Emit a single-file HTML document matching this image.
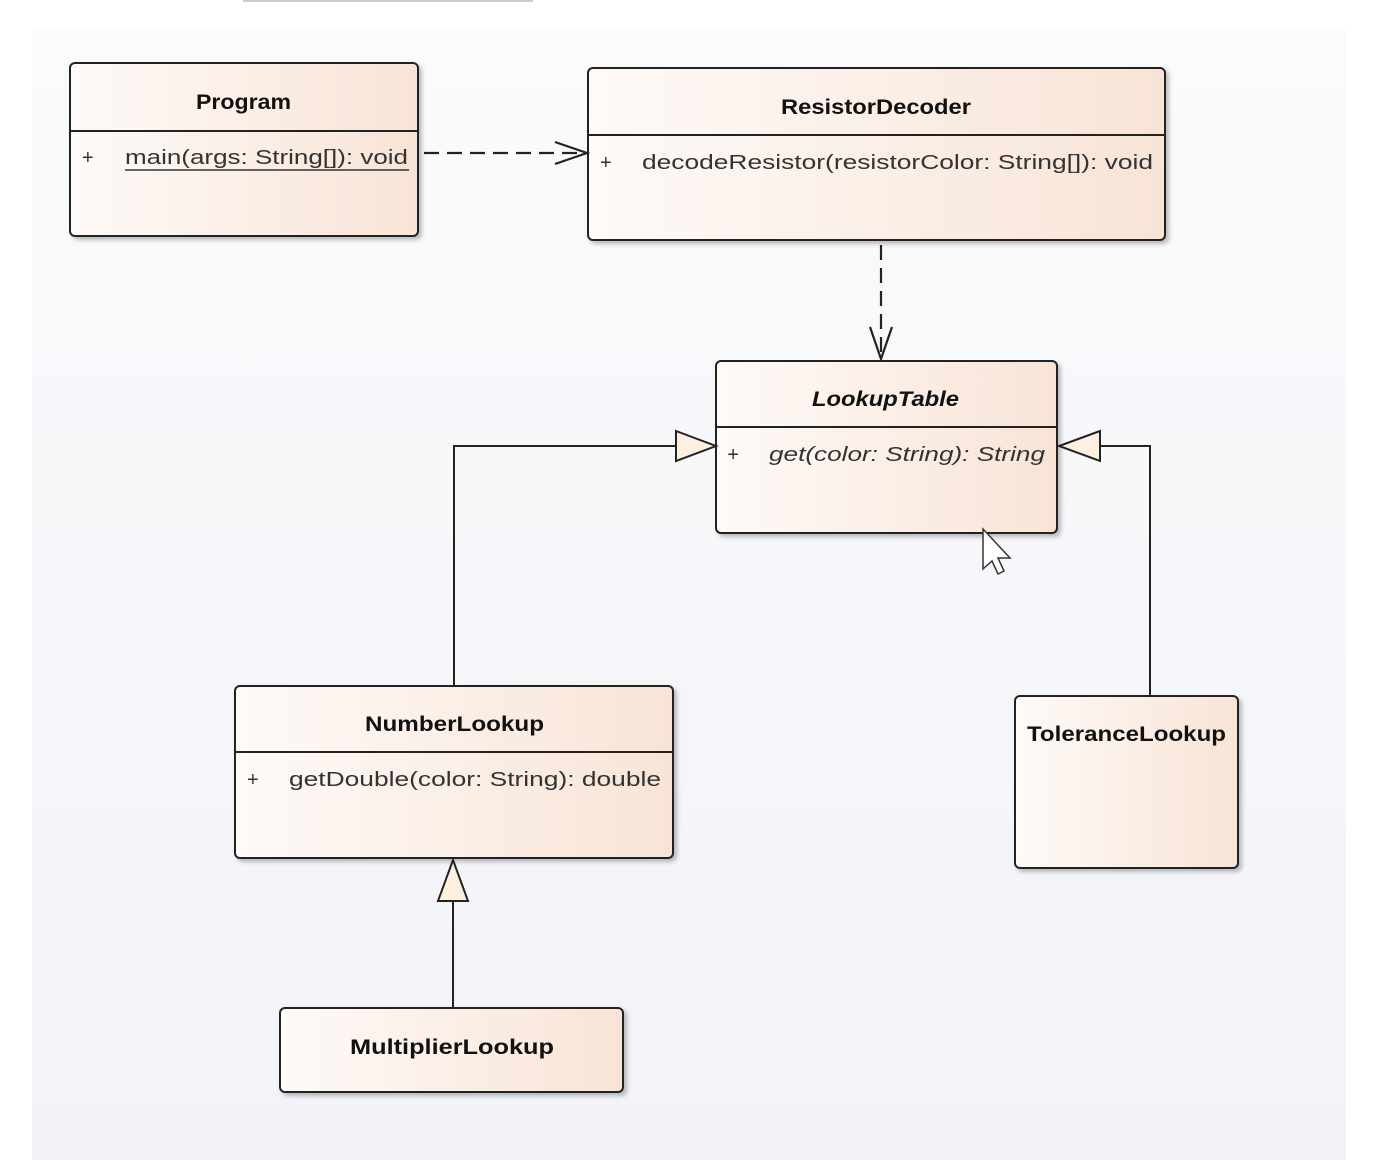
<!DOCTYPE html>
<html><head><meta charset="utf-8"><style>
html,body{margin:0;padding:0;background:#fff;}
svg{display:block}
text{font-family:"Liberation Sans",sans-serif;}
</style></head><body>
<svg width="1378" height="1160" viewBox="0 0 1378 1160" xmlns="http://www.w3.org/2000/svg">
<defs>
<linearGradient id="bg" x1="0" y1="0" x2="0" y2="1"><stop offset="0" stop-color="#fafbfc"/><stop offset="1" stop-color="#f1f3f8"/></linearGradient>
<linearGradient id="box" x1="0" y1="0" x2="1" y2="0"><stop offset="0" stop-color="#fefaf8"/><stop offset="1" stop-color="#f8e4d6"/></linearGradient>
<filter id="sh" x="-5%" y="-5%" width="115%" height="120%"><feDropShadow dx="3" dy="3" stdDeviation="2" flood-color="#000" flood-opacity="0.25"/></filter>
</defs>
<rect x="243" y="0" width="290" height="2" fill="#c8ccd4"/>
<rect x="32" y="30" width="1314" height="1130" fill="url(#bg)"/>

<g stroke="#222" stroke-width="2" fill="url(#box)">
<rect x="70" y="63" width="348" height="173" rx="5" filter="url(#sh)"/>
<rect x="588" y="68" width="577" height="172" rx="5" filter="url(#sh)"/>
<rect x="716" y="361" width="341" height="172" rx="5" filter="url(#sh)"/>
<rect x="235" y="686" width="438" height="172" rx="5" filter="url(#sh)"/>
<rect x="1015" y="696" width="223" height="172" rx="5" filter="url(#sh)"/>
<rect x="280" y="1008" width="343" height="84" rx="5" filter="url(#sh)"/>
</g>
<g stroke="#222" stroke-width="2">
<line x1="70" y1="131" x2="418" y2="131"/>
<line x1="588" y1="135" x2="1165" y2="135"/>
<line x1="716" y1="427" x2="1057" y2="427"/>
<line x1="235" y1="752" x2="673" y2="752"/>
</g>

<g fill="#111" font-weight="bold" font-size="21" lengthAdjust="spacingAndGlyphs">
<text x="196" y="109" textLength="95" lengthAdjust="spacingAndGlyphs">Program</text>
<text x="781" y="114" textLength="190" lengthAdjust="spacingAndGlyphs">ResistorDecoder</text>
<text x="812" y="406" font-style="italic" textLength="147" lengthAdjust="spacingAndGlyphs">LookupTable</text>
<text x="365" y="731" textLength="179" lengthAdjust="spacingAndGlyphs">NumberLookup</text>
<text x="1027" y="741" textLength="199" lengthAdjust="spacingAndGlyphs">ToleranceLookup</text>
<text x="350" y="1054" textLength="204" lengthAdjust="spacingAndGlyphs">MultiplierLookup</text>
</g>
<g fill="#333" font-size="20">
<text x="82" y="164">+</text>
<text x="125" y="164" textLength="283" lengthAdjust="spacingAndGlyphs">main(args: String[]): void</text>
<text x="600" y="169">+</text>
<text x="642" y="169" textLength="511" lengthAdjust="spacingAndGlyphs">decodeResistor(resistorColor: String[]): void</text>
<text x="727" y="461" font-style="italic">+</text>
<text x="769" y="461" font-style="italic" textLength="276" lengthAdjust="spacingAndGlyphs">get(color: String): String</text>
<text x="247" y="786">+</text>
<text x="289" y="786" textLength="372" lengthAdjust="spacingAndGlyphs">getDouble(color: String): double</text>
</g>
<line x1="125" y1="170" x2="409" y2="170" stroke="#333" stroke-width="1.5"/>

<g stroke="#222" stroke-width="2.2" fill="none">
<line x1="424" y1="153" x2="585" y2="153" stroke-dasharray="15,8"/>
<polyline points="555,142 587,153 555,164"/>
<line x1="881" y1="245" x2="881" y2="358" stroke-dasharray="15,8"/>
<polyline points="870,327 881,359 892,327"/>
</g>
<g stroke="#222" stroke-width="2" fill="none">
<polyline points="454,686 454,446 676,446"/>
<polyline points="1150,696 1150,446 1100,446"/>
<line x1="453" y1="1008" x2="453" y2="901"/>
</g>
<g stroke="#222" stroke-width="2" fill="#fdf0e0">
<polygon points="676,431 716,446 676,461"/>
<polygon points="1100,431 1059,446 1100,461"/>
<polygon points="438,901 453,860 468,901"/>
</g>
<path d="M983,529 L983,569 L992,561 L998,574 L1004,571 L998,558 L1010,558 Z" fill="#fff" stroke="#333" stroke-width="1.5"/>
</svg>
</body></html>
